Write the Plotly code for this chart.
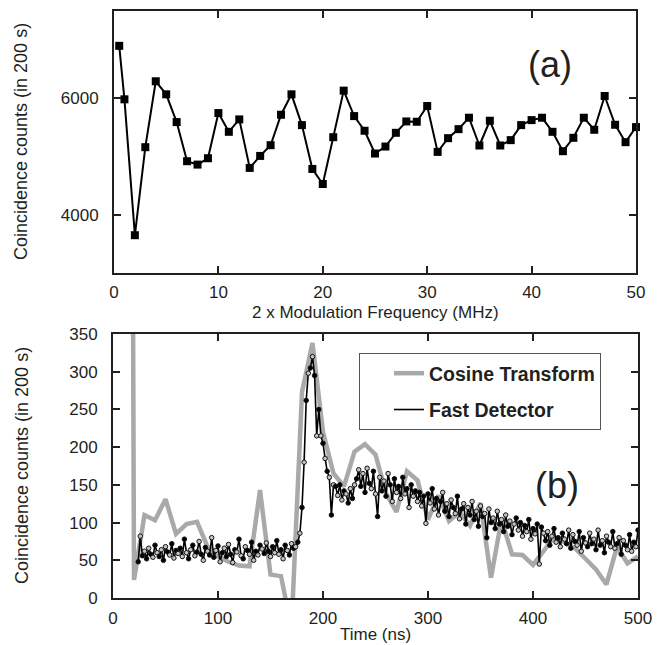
import plotly.graph_objects as go

# ---------------- Panel (a) data ----------------
mod_freq_mhz = [0.5, 1, 2, 3, 4, 5, 6, 7, 8, 9, 10, 11, 12, 13, 14, 15, 16, 17, 18, 19, 20,
                21, 22, 23, 24, 25, 26, 27, 28, 29, 30, 31, 32, 33, 34, 35, 36, 37, 38, 39, 40,
                41, 42, 43, 44, 45, 46, 47, 48, 49, 50]
counts_a = [6902, 5983, 3649, 5161, 6293, 6069, 5592, 4920, 4862, 4971, 5747, 5425, 5638, 4805,
            5011, 5195, 5718, 6069, 5540, 4787, 4529, 5333, 6132, 5695, 5443, 5052, 5172, 5408,
            5603, 5598, 5868, 5080, 5316, 5471, 5667, 5190, 5615, 5190, 5282, 5540, 5626, 5667,
            5425, 5092, 5322, 5667, 5460, 6040, 5546, 5247, 5506]

# ---------------- Panel (b) data ----------------
cos_time_ns = [10, 20, 30, 40, 50, 60, 70, 80, 90, 100, 110, 120, 130, 140, 150, 160, 170, 180,
               190, 200, 210, 220, 230, 240, 250, 260, 270, 280, 290, 300, 310, 320, 330, 340,
               350, 360, 370, 380, 390, 400, 410, 420, 430, 440, 450, 460, 470, 480, 490, 500]
cos_counts = [4000, 24, 110, 103, 131, 85, 98, 101, 68, 55, 48, 43, 42, 143, 31, 29, -40, 273,
              338, 220, 165, 148, 194, 204, 190, 139, 114, 168, 156, 104, 136, 102, 114, 96,
              126, 27, 104, 58, 57, 44, 62, 81, 74, 66, 52, 38, 18, 68, 46, 55]

fast_counts = [
    48, 82, 56, 62, 52, 66, 58, 54, 70, 60, 55, 64, 50, 68, 61, 57, 72, 53, 63, 59,
    66, 55, 78, 60, 52, 64, 70, 56, 61, 75, 58, 50, 67, 62, 57, 80, 54, 63, 69, 48,
    60, 66, 55, 71, 58, 47, 64, 61, 78, 56, 52, 68, 63, 58, 74, 50, 62, 57, 70, 65,
    59, 73, 62, 55, 68, 60, 76, 58, 64, 52, 70, 63, 57, 72, 66, 68,
    74, 86, 120, 180, 262, 298, 305, 320, 295, 215, 250, 215, 205, 185, 168, 160, 110, 150,
    148, 136, 150, 130, 142, 138, 126, 145, 132, 150, 158, 170, 148, 165, 140, 172, 152, 145, 168, 138,
    108, 160, 142, 155, 135, 165, 150, 128, 158, 140, 148, 132, 160, 138, 145, 120, 150, 135, 142, 128,
    140, 122, 135, 99, 138, 126, 145, 118, 132, 110, 128, 140, 115, 125, 108, 130, 120, 112, 135, 105,
    118, 125, 98, 120, 110, 128, 104, 115, 95, 122, 108, 112, 80, 118, 100, 106, 92, 115, 98, 104,
    88, 110, 95, 102, 84, 98, 106, 90, 100, 82, 96, 88, 104, 78, 92, 85, 98, 45, 94, 86,
    76, 88, 70, 82, 92, 74, 80, 68, 86, 78, 72, 90, 66, 84, 75, 70, 88, 62, 80, 73,
    68, 86, 72, 78, 64, 90, 70, 76, 60, 82, 74, 68, 88, 66, 72, 80, 58, 76, 70, 64, 84, 62, 74, 68, 90,
]
fast_start_ns = 24
fast_step_ns = 2
fast_time_ns = [fast_start_ns + fast_step_ns * i for i in range(len(fast_counts))]

x_ticks_a = [0, 10, 20, 30, 40, 50]
y_ticks_a = [4000, 6000]
x_ticks_b = [0, 100, 200, 300, 400, 500]
y_ticks_b = [0, 50, 100, 150, 200, 250, 300, 350]

# ---------------- Figure ----------------
W, H = 663, 645
FONT = "Liberation Sans, Arial, Helvetica, sans-serif"
INK = "#231f20"

def px_x(p):
    return p / W

def px_y(p):
    return (H - p) / H

fig = go.Figure()

fig.add_trace(go.Scatter(
    x=mod_freq_mhz, y=counts_a, mode="lines+markers",
    line=dict(color="#000000", width=2),
    marker=dict(symbol="square", size=8, color="#000000"),
    showlegend=False, cliponaxis=False, xaxis="x", yaxis="y",
))

fig.add_trace(go.Scatter(
    x=cos_time_ns, y=cos_counts, mode="lines", name="Cosine Transform",
    line=dict(color="#a9a9a9", width=4.5),
    legendgroup="g1", xaxis="x2", yaxis="y2",
))

fig.add_trace(go.Scatter(
    x=fast_time_ns, y=fast_counts, mode="lines", name="Fast Detector",
    line=dict(color="#000000", width=1.6),
    legendgroup="g2", xaxis="x2", yaxis="y2",
))

marker_fill = ["#000000" if i % 2 == 0 else "#c4c4c4" for i in range(len(fast_counts))]
fig.add_trace(go.Scatter(
    x=fast_time_ns, y=fast_counts, mode="markers", name="Fast Detector",
    marker=dict(symbol="circle", size=4.5, color=marker_fill,
                line=dict(color="#111111", width=1)),
    showlegend=False, legendgroup="g2", xaxis="x2", yaxis="y2",
))

axis_common = dict(
    showline=True, linecolor=INK, linewidth=2, mirror="ticks",
    ticks="inside", ticklen=7, tickwidth=2, tickcolor=INK,
    showgrid=False, zeroline=False, automargin=False,
    tickfont=dict(family=FONT, size=17, color=INK),
)

def label(text, x, y, size, angle=0):
    return dict(text=text, x=px_x(x), y=px_y(y), xref="paper", yref="paper",
                xanchor="center", yanchor="middle", showarrow=False, textangle=angle,
                font=dict(family=FONT, size=size, color=INK))

fig.update_layout(
    width=W, height=H,
    margin=dict(l=0, r=0, t=0, b=0, autoexpand=False),
    paper_bgcolor="white", plot_bgcolor="white",
    font=dict(family=FONT, color=INK),
    xaxis=dict(domain=[px_x(114), px_x(636)], range=[0, 50], tickvals=x_ticks_a,
               anchor="y", ticklabelstandoff=3, **axis_common),
    yaxis=dict(domain=[px_y(273), px_y(11)], range=[3000, 7500], tickvals=y_ticks_a,
               anchor="x", ticklabelstandoff=10, **axis_common),
    xaxis2=dict(domain=[px_x(113), px_x(638)], range=[0, 500], tickvals=x_ticks_b,
                anchor="y2", ticklabelstandoff=4, **axis_common),
    yaxis2=dict(domain=[px_y(598), px_y(334)], range=[0, 350], tickvals=y_ticks_b,
                anchor="x2", ticklabelstandoff=10, **axis_common),
    legend=dict(
        x=px_x(359), y=px_y(353), xanchor="left", yanchor="top",
        bgcolor="white", bordercolor="#555555", borderwidth=1,
        font=dict(family=FONT, size=19.5, color=INK, weight="bold"),
        tracegroupgap=8, indentation=29,
    ),
    annotations=[
        label("(a)", 550, 65, 36),
        label("(b)", 557, 485, 36),
        label("Coincidence counts (in 200 s)", 21, 142, 18, -90),
        label("Coincidence counts (in 200 s)", 22, 466, 18, -90),
        label("2 x Modulation Frequency (MHz)", 375, 312, 17),
        label("Time (ns)", 375, 634, 17),
    ],
)

fig.write_html(
    "out.html",
    config={"displayModeBar": False},
    post_script="document.body.style.margin='0';document.body.style.overflow='hidden';",
)
